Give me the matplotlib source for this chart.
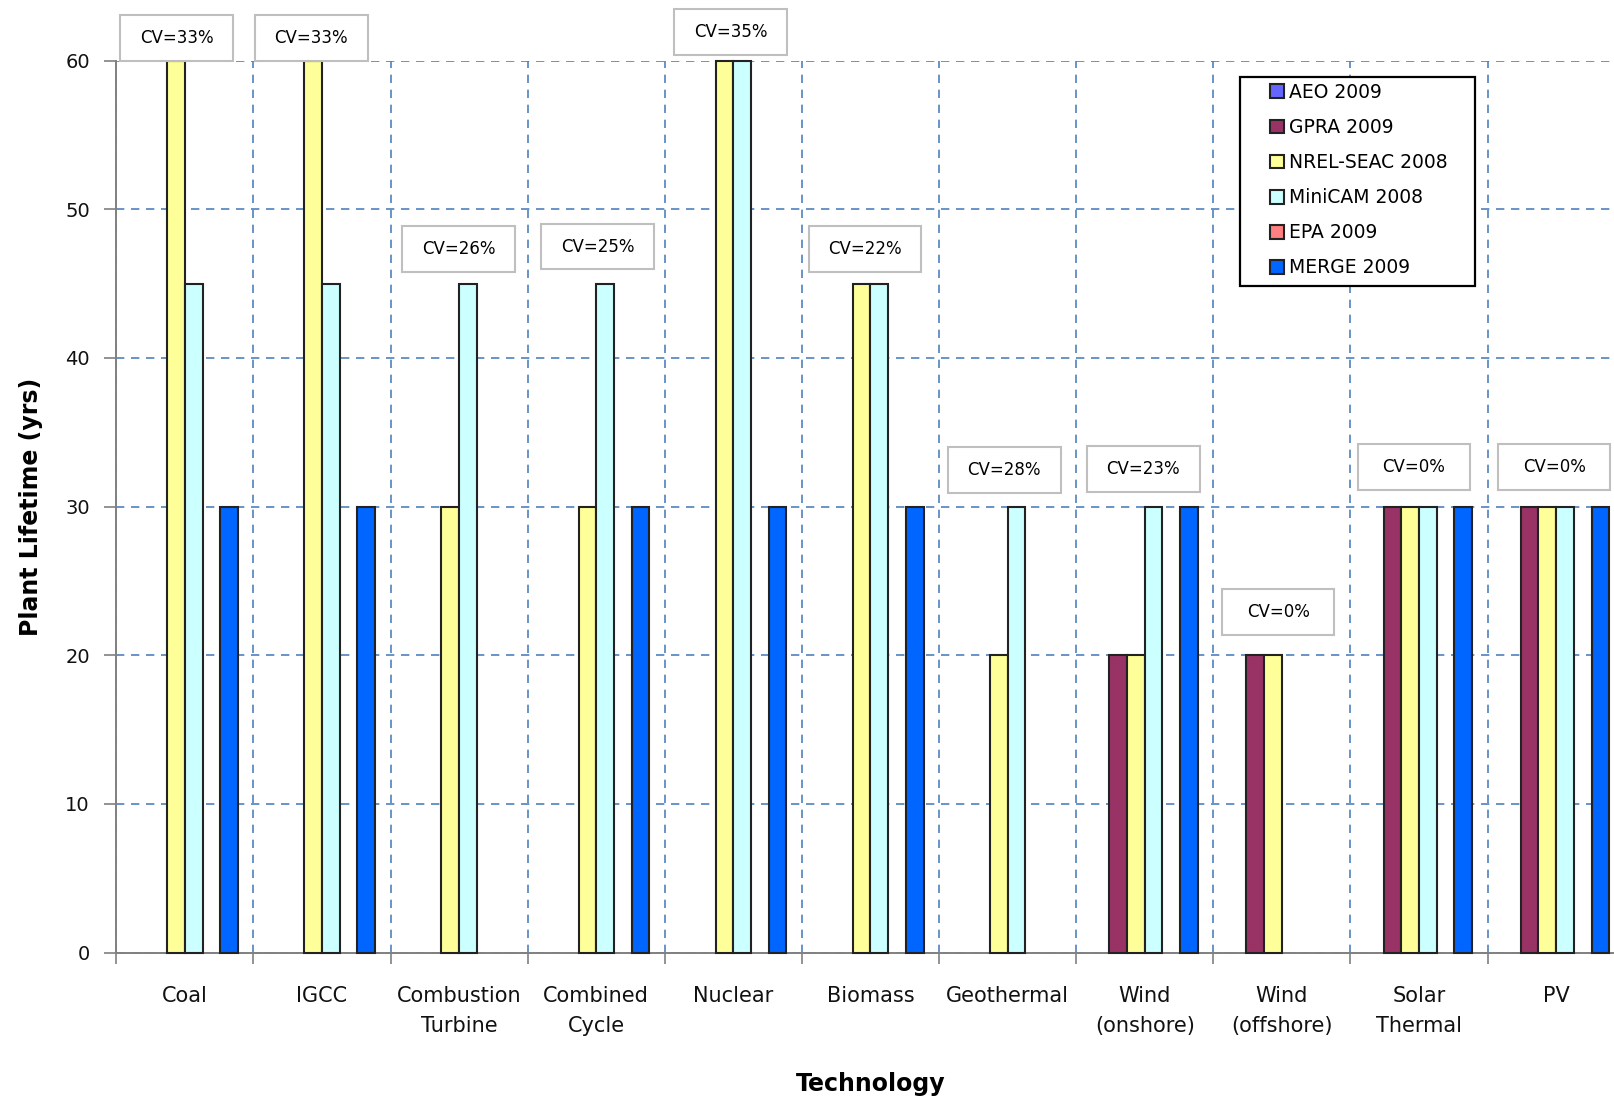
import numpy as np
import matplotlib
matplotlib.use('Agg')
import matplotlib.pyplot as plt
from matplotlib.patches import Rectangle

# Data
technologies = ['Coal', 'IGCC', 'Combustion\nTurbine', 'Combined\nCycle', 'Nuclear',
                'Biomass', 'Geothermal', 'Wind\n(onshore)', 'Wind\n(offshore)',
                'Solar\nThermal', 'PV']
series_names = ['AEO 2009', 'GPRA 2009', 'NREL-SEAC 2008', 'MiniCAM 2008',
                'EPA 2009', 'MERGE 2009']
nan = np.nan
aeo_2009 = [nan] * 11
gpra_2009 = [nan, nan, nan, nan, nan, nan, nan, 20, 20, 30, 30]
nrel_seac_2008 = [60, 60, 30, 30, 60, 45, 20, 20, 20, 30, 30]
minicam_2008 = [45, 45, 45, 45, 60, 45, 30, 30, nan, 30, 30]
epa_2009 = [nan] * 11
merge_2009 = [30, 30, nan, 30, 30, 30, nan, 30, nan, 30, 30]
cv_labels = ['CV=33%', 'CV=33%', 'CV=26%', 'CV=25%', 'CV=35%', 'CV=22%',
             'CV=28%', 'CV=23%', 'CV=0%', 'CV=0%', 'CV=0%']

series = [aeo_2009, gpra_2009, nrel_seac_2008, minicam_2008, epa_2009, merge_2009]
colors = ['#6666FF', '#993366', '#FFFF99', '#CCFFFF', '#FF8080', '#0066FF']

# layout of the CV boxes (left edge in category units, bottom in y units)
box_left = [0.03, 1.013, 2.087, 3.10, 4.07, 5.05, 6.066, 7.08, 8.063, 9.054, 10.075]
box_bottom = [60.0, 60.0, 45.8, 45.95, 60.4, 45.8, 30.93, 31.0, 21.38, 31.14, 31.14]
box_w = 0.82
box_h = 3.05

fig = plt.figure(figsize=(16.15, 11), dpi=100)
ax = fig.add_axes([0.072, 0.134, 0.934, 0.811])

n = len(technologies)
x = np.arange(n) + 0.5
bw = 0.129
for i, (vals, name, c) in enumerate(zip(series, series_names, colors)):
    offs = (i - 2.5) * bw
    ax.bar(x + offs, vals, width=bw, color=c, edgecolor='#222222', linewidth=1.5,
           label=name, zorder=3, clip_on=False)

ax.set_xlim(0, n)
ax.set_ylim(0, 60)
ax.set_yticks(np.arange(0, 61, 10))
ax.set_xticks(x)
ax.set_xticklabels(technologies, fontsize=15, linespacing=1.65, color='#111111')
ax.set_xticks(np.arange(0, n + 1), minor=True)
ax.tick_params(axis='x', which='major', length=0, pad=24)
ax.tick_params(axis='x', which='minor', length=8, direction='out', color='#808080', width=1.2)
ax.tick_params(axis='y', length=9, direction='out', color='#808080', width=1.2,
               labelsize=14, pad=10, labelcolor='#111111')

ax.grid(True, axis='y', which='major', linestyle=(0, (5, 4)), color='#4F81BD', linewidth=1.2, zorder=0)
ax.grid(True, axis='x', which='minor', linestyle=(0, (5, 4)), color='#4F81BD', linewidth=1.2, zorder=0)
ax.grid(False, axis='x', which='major')

for s in ['top', 'right']:
    ax.spines[s].set_visible(False)
ax.spines['left'].set_color('#808080')
ax.spines['bottom'].set_color('#808080')
ax.spines['left'].set_linewidth(1.4)
ax.spines['bottom'].set_linewidth(1.4)

# CV boxes
for lab, bl, bb in zip(cv_labels, box_left, box_bottom):
    ax.add_patch(Rectangle((bl, bb), box_w, box_h, facecolor='white', edgecolor='#BFBFBF',
                           linewidth=1.5, zorder=5, clip_on=False))
    ax.text(bl + box_w * 0.5, bb + box_h / 2, lab, ha='center', va='center',
            fontsize=12, zorder=6, clip_on=False)

ax.set_ylabel('Plant Lifetime (yrs)', fontsize=17, fontweight='bold', labelpad=16)
ax.set_xlabel('Technology', fontsize=17, fontweight='bold', labelpad=26)

# legend: entries without frame, frame drawn separately
leg = ax.legend(loc='upper left', bbox_to_anchor=(0.7646, 0.975), fontsize=13.5,
                frameon=False, borderpad=0, borderaxespad=0,
                handlelength=0.75, handleheight=0.75, handletextpad=0.3,
                labelspacing=0.86)
leg.set_zorder(10)
ax.add_patch(Rectangle((0.745, 0.747), 0.156, 0.235, transform=ax.transAxes,
                       facecolor='white', edgecolor='black', linewidth=1.6, zorder=9))

fig.savefig('out.png', dpi=100)
